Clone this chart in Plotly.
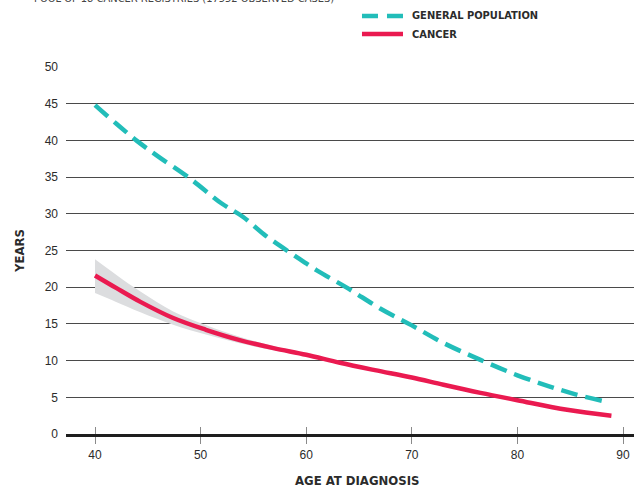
import plotly.graph_objects as go

# Expected remaining lifetime (years) by age at diagnosis
gen_age = [40, 42, 44, 46, 49, 52, 54, 56, 59, 61, 64, 67, 70, 73, 76.5, 80, 83, 85.5, 88.4]
gen_years = [44.8, 42.3, 39.9, 37.8, 34.8, 31.4, 29.6, 27.2, 24.2, 22.3, 19.8, 17.1,
             14.8, 12.4, 10.1, 8.0, 6.5, 5.4, 4.4]

cancer_age = [40, 42, 44.3, 47.4, 50.5, 53.7, 56.9, 60, 63.2, 66.5, 70, 73, 76.5, 80, 84.7, 88.9]
cancer_years = [21.6, 19.9, 18.0, 15.8, 14.2, 12.8, 11.7, 10.8, 9.7, 8.7, 7.7, 6.7, 5.6, 4.6, 3.3, 2.5]
cancer_upper = [23.8, 21.7, 19.4, 16.7, 14.85, 13.25, 12.0, 11.0, 9.85, 8.8, 7.8, 6.8, 5.7, 4.7, 3.4, 2.6]
cancer_lower = [19.2, 18.0, 16.6, 14.9, 13.55, 12.35, 11.4, 10.6, 9.55, 8.6, 7.6, 6.6, 5.5, 4.5, 3.2, 2.4]

x_ticks = [40, 50, 60, 70, 80, 90]
y_ticks = [0, 5, 10, 15, 20, 25, 30, 35, 40, 45, 50]

series_names = ["GENERAL POPULATION", "CANCER"]
subtitle = "POOL OF 18 CANCER REGISTRIES (17552 OBSERVED CASES)"

TEAL = "#22bdb9"
RED = "#ea1a50"
BAND = "#dcdddf"
TXT = "#2b2b2b"
NARROW = "Liberation Sans Narrow, DejaVu Sans Condensed, Arial Narrow, sans-serif"
REG = "Liberation Sans, Arial, sans-serif"

fig = go.Figure()

# confidence band for the cancer curve
fig.add_trace(go.Scatter(x=cancer_age, y=cancer_upper, mode="lines", line=dict(width=0, shape="spline"),
                         hoverinfo="skip", showlegend=False))
fig.add_trace(go.Scatter(x=cancer_age, y=cancer_lower, mode="lines", line=dict(width=0, shape="spline"),
                         fill="tonexty", fillcolor=BAND, hoverinfo="skip", showlegend=False))

fig.add_trace(go.Scatter(x=gen_age, y=gen_years, mode="lines", name=series_names[0],
                         line=dict(color=TEAL, width=4.5, dash="17px,8px", shape="spline"),
                         showlegend=False))
fig.add_trace(go.Scatter(x=cancer_age, y=cancer_years, mode="lines", name=series_names[1],
                         line=dict(color=RED, width=4.5, shape="spline"),
                         showlegend=False))

# second x axis only for the upward half of the crossing tick marks
fig.add_trace(go.Scatter(x=[None], y=[None], xaxis="x2", showlegend=False, hoverinfo="skip"))

x_range = [37.254, 91.04]

fig.update_layout(
    width=634, height=490,
    margin=dict(l=66, r=0, t=67, b=56),
    paper_bgcolor="white", plot_bgcolor="white",
    showlegend=False,
    xaxis=dict(range=x_range, tickvals=x_ticks, ticktext=[str(v) for v in x_ticks],
               showgrid=False, zeroline=False,
               showline=True, linecolor="#1e1e1e", linewidth=3,
               ticks="outside", ticklen=7, tickcolor="#8a8a8a", tickwidth=1,
               tickfont=dict(family=REG, size=12, color=TXT), ticklabelstandoff=1),
    xaxis2=dict(range=x_range, overlaying="x", side="bottom", anchor="y",
                tickvals=x_ticks, showticklabels=False, showgrid=False, zeroline=False,
                showline=False, ticks="inside", ticklen=7, tickcolor="#8a8a8a", tickwidth=1),
    yaxis=dict(range=[0, 50], tickvals=y_ticks, ticktext=[str(v) for v in y_ticks],
               showgrid=True, gridcolor="#4a4a4a", gridwidth=1, zeroline=False,
               showline=False, ticks="",
               tickfont=dict(family=REG, size=12, color=TXT), ticklabelstandoff=7),
)

# legend drawn as line samples and labels above the plot
fig.add_shape(type="line", xref="paper", yref="paper", x0=0.5211, x1=0.5933, y0=1.139, y1=1.139,
              line=dict(color=TEAL, width=4.5, dash="16px,9px"))
fig.add_shape(type="line", xref="paper", yref="paper", x0=0.5211, x1=0.5933, y0=1.0899, y1=1.0899,
              line=dict(color=RED, width=4.5))
fig.add_annotation(text="<b>%s</b>" % series_names[0], xref="paper", yref="paper", x=0.6056, y=1.139,
                   xanchor="left", yanchor="middle", showarrow=False,
                   font=dict(family=NARROW, size=11, color=TXT))
fig.add_annotation(text="<b>%s</b>" % series_names[1], xref="paper", yref="paper", x=0.6056, y=1.0899,
                   xanchor="left", yanchor="middle", showarrow=False,
                   font=dict(family=NARROW, size=11, color=TXT))

# axis titles
fig.add_annotation(text="<b>AGE AT DIAGNOSIS</b>", xref="paper", yref="paper", x=0.5123, y=-0.128,
                   xanchor="center", yanchor="middle", showarrow=False,
                   font=dict(family=NARROW, size=13, color=TXT))
fig.add_annotation(text="<b>YEARS</b>", xref="paper", yref="paper", x=-0.0827, y=0.4986,
                   xanchor="center", yanchor="middle", textangle=-90, showarrow=False,
                   font=dict(family=NARROW, size=13, color=TXT))

# subtitle line running off the top edge
fig.add_annotation(text=subtitle, xref="paper", yref="paper", x=-0.0599, y=1.186,
                   xanchor="left", yanchor="middle", showarrow=False,
                   font=dict(family=NARROW, size=11, color="#444444"))

fig.write_html("out.html")
